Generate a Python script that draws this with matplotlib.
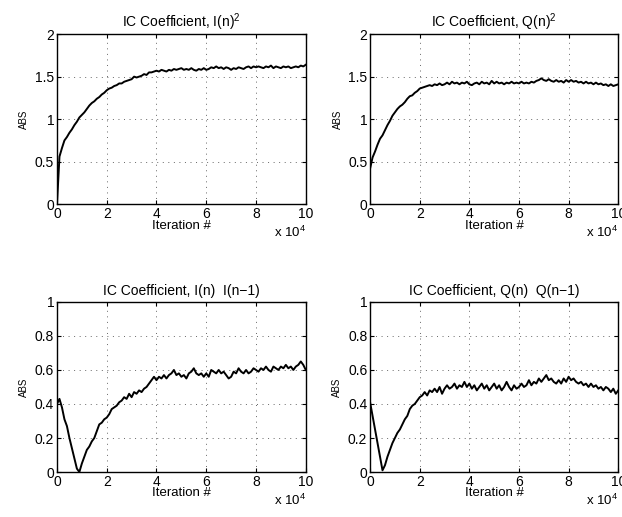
import numpy as np
import matplotlib
matplotlib.use("Agg")
import matplotlib.pyplot as plt

plt.rcParams['font.family'] = ['Liberation Sans', 'DejaVu Sans']
plt.rcParams['mathtext.fontset'] = 'custom'
plt.rcParams['mathtext.rm'] = 'Liberation Sans'
plt.rcParams['mathtext.it'] = 'Liberation Sans'

# iteration index in units of 10^4, sampled every 1000 iterations
iters = np.arange(0, 100001, 1000) / 1e4

i_sq = [0.00, 0.56, 0.66, 0.75, 0.79, 0.84, 0.88, 0.93, 0.97, 1.02,
        1.05, 1.08, 1.12, 1.16, 1.19, 1.21, 1.24, 1.26, 1.29, 1.31,
        1.34, 1.36, 1.37, 1.39, 1.40, 1.42, 1.42, 1.44, 1.45, 1.46,
        1.47, 1.50, 1.49, 1.50, 1.51, 1.53, 1.52, 1.55, 1.55, 1.56,
        1.57, 1.56, 1.58, 1.57, 1.56, 1.58, 1.57, 1.59, 1.58, 1.59,
        1.60, 1.58, 1.59, 1.58, 1.60, 1.58, 1.57, 1.59, 1.58, 1.60,
        1.58, 1.59, 1.61, 1.60, 1.62, 1.60, 1.61, 1.59, 1.61, 1.60,
        1.58, 1.60, 1.59, 1.61, 1.60, 1.59, 1.61, 1.62, 1.60, 1.62,
        1.61, 1.62, 1.61, 1.60, 1.62, 1.61, 1.63, 1.60, 1.62, 1.61,
        1.60, 1.62, 1.61, 1.62, 1.60, 1.61, 1.62, 1.61, 1.63, 1.62,
        1.64]

q_sq = [0.42, 0.55, 0.62, 0.70, 0.77, 0.81, 0.87, 0.93, 0.98, 1.04,
        1.08, 1.12, 1.15, 1.17, 1.20, 1.24, 1.27, 1.28, 1.31, 1.33,
        1.36, 1.37, 1.38, 1.39, 1.40, 1.39, 1.41, 1.40, 1.42, 1.40,
        1.41, 1.43, 1.41, 1.44, 1.42, 1.43, 1.41, 1.43, 1.42, 1.44,
        1.41, 1.40, 1.42, 1.43, 1.41, 1.44, 1.42, 1.43, 1.41, 1.45,
        1.42, 1.44, 1.42, 1.43, 1.41, 1.43, 1.42, 1.44, 1.42, 1.43,
        1.42, 1.44, 1.42, 1.43, 1.42, 1.44, 1.43, 1.45, 1.46, 1.48,
        1.46, 1.45, 1.47, 1.45, 1.44, 1.46, 1.44, 1.45, 1.43, 1.46,
        1.44, 1.46, 1.44, 1.45, 1.43, 1.44, 1.42, 1.44, 1.42, 1.43,
        1.41, 1.43, 1.41, 1.42, 1.40, 1.41, 1.39, 1.41, 1.39, 1.40,
        1.41]

i_lag = [0.40, 0.43, 0.38, 0.31, 0.27, 0.20, 0.14, 0.08, 0.02, 0.00,
         0.05, 0.09, 0.13, 0.15, 0.18, 0.20, 0.24, 0.28, 0.29, 0.31,
         0.32, 0.34, 0.37, 0.38, 0.39, 0.41, 0.42, 0.44, 0.43, 0.46,
         0.44, 0.47, 0.46, 0.48, 0.47, 0.49, 0.50, 0.52, 0.54, 0.56,
         0.54, 0.56, 0.55, 0.57, 0.55, 0.57, 0.58, 0.60, 0.57, 0.58,
         0.56, 0.57, 0.55, 0.58, 0.59, 0.61, 0.58, 0.57, 0.58, 0.56,
         0.58, 0.56, 0.60, 0.59, 0.58, 0.60, 0.58, 0.59, 0.57, 0.55,
         0.56, 0.59, 0.58, 0.61, 0.59, 0.58, 0.60, 0.58, 0.59, 0.61,
         0.60, 0.59, 0.61, 0.60, 0.62, 0.60, 0.59, 0.62, 0.61, 0.60,
         0.62, 0.61, 0.63, 0.61, 0.62, 0.60, 0.62, 0.63, 0.65, 0.63,
         0.60]

q_lag = [0.41, 0.33, 0.25, 0.17, 0.09, 0.01, 0.04, 0.09, 0.13, 0.17,
         0.20, 0.23, 0.25, 0.28, 0.31, 0.33, 0.37, 0.39, 0.40, 0.42,
         0.44, 0.45, 0.47, 0.45, 0.48, 0.47, 0.49, 0.47, 0.50, 0.46,
         0.49, 0.51, 0.49, 0.50, 0.52, 0.49, 0.51, 0.50, 0.53, 0.50,
         0.52, 0.49, 0.51, 0.48, 0.50, 0.52, 0.49, 0.51, 0.48, 0.50,
         0.52, 0.49, 0.51, 0.48, 0.50, 0.53, 0.50, 0.48, 0.51, 0.49,
         0.50, 0.52, 0.50, 0.51, 0.54, 0.51, 0.53, 0.52, 0.55, 0.53,
         0.55, 0.57, 0.54, 0.55, 0.53, 0.52, 0.54, 0.52, 0.55, 0.53,
         0.56, 0.54, 0.55, 0.53, 0.52, 0.53, 0.51, 0.52, 0.50, 0.52,
         0.50, 0.51, 0.49, 0.50, 0.48, 0.50, 0.49, 0.47, 0.49, 0.46,
         0.48]

titles = [r"IC Coefficient, I(n)$^{2}$",
          r"IC Coefficient, Q(n)$^{2}$",
          "IC Coefficient, I(n)  I(n\u22121)",
          "IC Coefficient, Q(n)  Q(n\u22121)"]
series = [i_sq, q_sq, i_lag, q_lag]
ylims = [2, 2, 1, 1]
yticks = [[0, 0.5, 1, 1.5, 2], [0, 0.5, 1, 1.5, 2],
          [0, 0.2, 0.4, 0.6, 0.8, 1], [0, 0.2, 0.4, 0.6, 0.8, 1]]
xticks = [0, 2, 4, 6, 8, 10]

fig = plt.figure(figsize=(6.22, 5.17), dpi=100)
boxes = [[0.0916, 0.605, 0.400, 0.329],
         [0.595, 0.605, 0.399, 0.329],
         [0.0916, 0.087, 0.400, 0.329],
         [0.595, 0.087, 0.399, 0.329]]

for box, title, y, ymax, yt in zip(boxes, titles, series, ylims, yticks):
    ax = fig.add_axes(box)
    ax.plot(iters, y, color='black', linewidth=1.4)
    ax.set_xlim(0, 10)
    ax.set_ylim(0, ymax)
    ax.set_xticks(xticks)
    ax.set_yticks(yt)
    ax.set_yticklabels(['%g' % v for v in yt])
    ax.grid(True, linestyle=(0, (1, 4.7)), color='#666666', linewidth=0.7)
    ax.tick_params(direction='in', length=3, labelsize=10, pad=2,
                   top=True, right=True)
    for s in ax.spines.values():
        s.set_linewidth(1.0)
    ax.set_title(title, fontsize=10, pad=5)
    ax.set_xlabel("Iteration #", fontsize=9.5, labelpad=-1)
    ax.set_ylabel("ABS", fontsize=7, labelpad=4)
    ax.text(1.0, -0.165, r"x 10$^{4}$", transform=ax.transAxes,
            ha='right', va='center', fontsize=9.5)

fig.savefig("out.png", dpi=100)
